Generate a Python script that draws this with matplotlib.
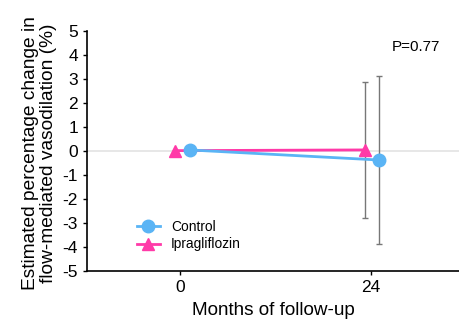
import matplotlib
matplotlib.use("Agg")
import matplotlib.pyplot as plt

plt.rcParams['font.family'] = ['Liberation Sans', 'DejaVu Sans']
plt.rcParams['axes.unicode_minus'] = False

# data
months = [0, 24]
control_x = [1.2, 25.0]
control = [0.05, -0.37]
control_lo = [0.0, 3.5]
control_hi = [0.0, 3.5]
ipra_x = [-0.6, 23.2]
ipra = [0.02, 0.05]
ipra_lo = [0.0, 2.85]
ipra_hi = [0.0, 2.85]
yticks = list(range(-5, 6))

blue = '#5ab4f5'
pink = '#ff3aa8'

fig = plt.figure(figsize=(4.6, 3.25), dpi=100)
ax = fig.add_axes([0.189, 0.166, 0.811, 0.738])

ax.axhline(0, color='#e3e3e3', lw=1.2, zorder=0)

ax.errorbar(ipra_x, ipra, yerr=[ipra_lo, ipra_hi], fmt='none', ecolor='#777777',
            elinewidth=1.0, capsize=2.5, capthick=1.0, zorder=1)
ax.errorbar(control_x, control, yerr=[control_lo, control_hi], fmt='none', ecolor='#777777',
            elinewidth=1.0, capsize=2.5, capthick=1.0, zorder=1)

ax.plot(control_x, control, color=blue, lw=2, marker='o', ms=9, label='Control', zorder=3)
ax.plot(ipra_x, ipra, color=pink, lw=2, marker='^', ms=8.5, label='Ipragliflozin', zorder=2)

ax.set_xlim(-11.7, 35.2)
ax.set_ylim(-5, 5)
ax.set_xticks(months)
ax.set_yticks(yticks)
ax.tick_params(labelsize=12.5, length=3, width=1, colors='black')
ax.spines['top'].set_visible(False)
ax.spines['right'].set_visible(False)
ax.spines['left'].set_linewidth(1.2)
ax.spines['bottom'].set_linewidth(1.2)

ax.set_xlabel('Months of follow-up', fontsize=13.6, labelpad=5)
ax.set_ylabel('Estimated percentage change in\nflow-mediated vasodilation (%)', fontsize=13.8,
              linespacing=1.05)
ax.yaxis.set_label_coords(-0.08, 0.49)

ax.text(0.818, 0.933, 'P=0.77', transform=ax.transAxes, fontsize=11, va='center')

ax.legend(loc='lower left', bbox_to_anchor=(0.1, 0.03), frameon=False, fontsize=9.9,
          handlelength=1.7, handletextpad=0.8, labelspacing=0.25)

fig.savefig('out.png', dpi=100)
